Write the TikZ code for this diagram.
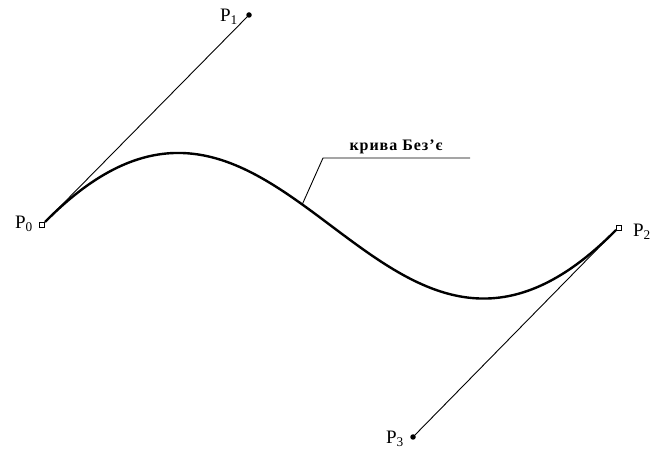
\documentclass[tikz,border=0pt]{standalone}
\usepackage{fontspec}
\setmainfont{Liberation Serif}
\newfontfamily\spacedfont[LetterSpace=6]{Liberation Serif}
\begin{document}
\begin{tikzpicture}[x=1pt,y=-1pt,
  thin line/.style={line width=0.9pt},
  curve line/.style={line width=2.4pt},
  endsq/.style={draw,line width=0.8pt,fill=white,rectangle,minimum size=5.5pt,inner sep=0pt},
  enddot/.style={fill,circle,minimum size=5.5pt,inner sep=0pt},
  lbl/.style={font=\fontsize{19}{22}\selectfont,inner sep=0pt},
  captext/.style={font=\spacedfont\bfseries\fontsize{16}{18}\selectfont,inner sep=0pt}]
\useasboundingbox (0,0) rectangle (654,454);
\coordinate (A) at (45,222);
\coordinate (B) at (616,230);
\node[enddot] (p1) at (249,15) {};
\node[enddot] (p3) at (413,437) {};
\draw[thin line] (A) -- (p1.center);
\draw[thin line] (p3.center) -- (B);
\draw[curve line] (A) .. controls (284,-20) and (378,471) .. (B);
\node[endsq] (p0) at (42,225) {};
\node[endsq] (p2) at (619,228) {};
\node[lbl] (l0) at (24,224) {P\textsubscript{0}};
\node[lbl] (l1) at (229,17) {P\textsubscript{1}};
\node[lbl] (l2) at (642,232) {P\textsubscript{2}};
\node[lbl] (l3) at (395,439) {P\textsubscript{3}};
\coordinate (t) at (302,205);
\coordinate (k) at (323,158);
\coordinate (e) at (470,158);
\draw[thin line] (t) -- (k) -- (e);
\node[captext,anchor=base] (c) at (396,151) {крива Без’є};
\end{tikzpicture}
\end{document}
